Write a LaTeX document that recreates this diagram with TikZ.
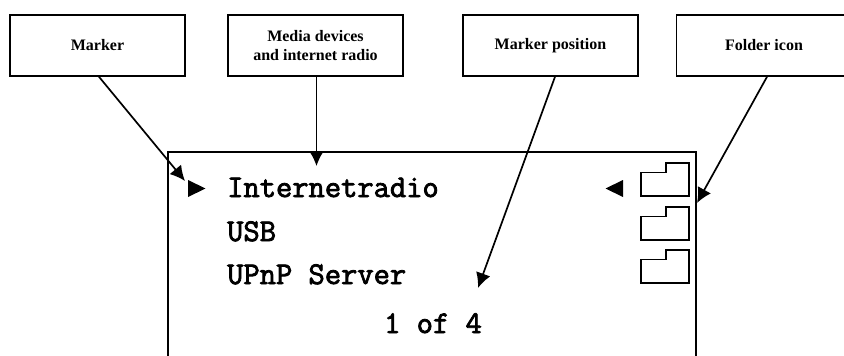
\documentclass[tikz,border=0pt]{standalone}
\usepackage{fontspec}
\setmainfont{Liberation Serif}
\newfontfamily\menufont[FakeBold=2.5]{Latin Modern Mono}
\usetikzlibrary{arrows.meta}
\tikzset{
    callout/.style={draw, line width=1.6pt, minimum width=175pt, minimum height=61pt, inner sep=0pt, align=center, font=\fontsize{16}{19}\selectfont\bfseries},
    menuitem/.style={anchor=base west, inner sep=0pt, font=\fontsize{31.6}{34}\selectfont\menufont},
    pointer/.style={line width=1.7pt, -{Latex[length=15pt, width=15pt]}},
    folder/.style={draw, line width=1.4pt},
}
\begin{document}
\begin{tikzpicture}[x=1pt, y=-1pt]
        \useasboundingbox (0,0) rectangle (844,356);
        \clip (0,0) rectangle (844,356);

        % Display outline
        \draw[line width=1.6pt] (168,356) -- (168,152) -- (696,152) -- (696,356);

        % Callout boxes
        \node[callout] (marker) at (97.5,45.5) {Marker};
        \node[callout] (media) at (315.5,45.5) {Media devices\\and internet radio};
        \node[callout] (position) at (550.5,45.5) {Marker position};
        \node[callout] (foldericon) at (764,45.5) {Folder icon};

        % Menu lines
        \node[menuitem] (internet) at (227,197) {Internetradio};
        \node[menuitem] (usb) at (227,241) {USB};
        \node[menuitem] (upnp) at (227,284) {UPnP Server};
        \node[menuitem] (count) at (384,333) {1 of 4};

        % Marker triangles
        \fill (188,180) -- (205.5,188.5) -- (188,197) -- cycle;
        \fill (623,180) -- (605.5,188.5) -- (623,197) -- cycle;

        % Folder icons
        \foreach \y in {163,207,250} {
            \draw[folder] (641,\y+9.5) -- (666,\y+9.5) -- (666,\y) -- (689,\y) -- (689,\y+33) -- (641,\y+33) -- cycle;
        }

        % Targets of the pointers
        \coordinate (markertip) at (185,181);
        \coordinate (mediatip) at (316.5,166);
        \coordinate (positiontip) at (478,288);
        \coordinate (foldertip) at (697,203);

        % Pointers
        \draw[pointer] (marker.south) ++(1.5,0) -- (markertip);
        \draw[pointer] (media.south) ++(1,0) -- (mediatip);
        \draw[pointer] (position.south) ++(4.5,0) -- (positiontip);
        \draw[pointer] (foldericon.south) ++(3,0) -- (foldertip);
\end{tikzpicture}
\end{document}
